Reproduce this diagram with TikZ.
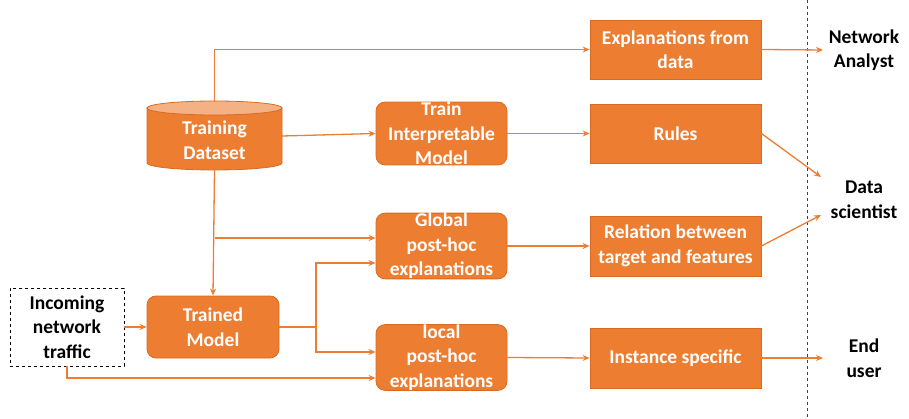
\documentclass[tikz,border=0pt]{standalone}
\usepackage{fontspec}
\setmainfont{Carlito}
\usetikzlibrary{arrows.meta}
\definecolor{org}{HTML}{ED7D31}
\definecolor{orgd}{HTML}{D86A22}
\definecolor{orgl}{HTML}{F4B183}
\begin{document}
\begin{tikzpicture}[x=1pt,y=-1pt,
  txt/.style={font=\fontsize{19.5}{24.5}\selectfont\bfseries, align=center},
  obox/.style={txt, text=white, fill=org, draw=orgd, line width=0.8pt, inner sep=0pt},
  rbox/.style={obox, rounded corners=9pt},
  who/.style={txt, text=black},
  conn/.style={draw=org, line width=1.3pt, -{Stealth[length=7pt,width=6pt]}},
  plain/.style={draw=org, line width=1.3pt}]
\useasboundingbox (0,0) rectangle (909,419);
% cylinder
\fill[org] (147,108) -- (147,163) arc[start angle=180,end angle=0,x radius=67.5,y radius=7] -- (282,108) -- cycle;
\draw[orgd,line width=0.8pt] (147,108) -- (147,163) arc[start angle=180,end angle=0,x radius=67.5,y radius=7] -- (282,108);
\draw[orgd,fill=orgl,line width=0.8pt] (214.5,108) ellipse[x radius=67.5,y radius=7];
\node[minimum width=135pt,minimum height=68pt,inner sep=0pt] (td) at (214.5,136) {};
\node[txt,text=white] (tdl) at (214.5,140) {Training\\Dataset};
% boxes
\node[rbox,minimum width=132pt,minimum height=62pt] (tm) at (213,327) {Trained\\Model};
\node[txt,draw=black,dashed,line width=0.8pt,minimum width=114pt,minimum height=78pt,inner sep=0pt] (inc) at (67,327) {Incoming\\network\\traffic};
\node[rbox,minimum width=131pt,minimum height=61pt] (ti) at (441.5,133.5) {Train\\Interpretable\\Model};
\node[rbox,minimum width=131pt,minimum height=62pt] (gl) at (441.5,246) {Global\\post-hoc\\explanations};
\node[rbox,minimum width=131pt,minimum height=61pt] (lo) at (441.5,357.5) {local\\post-hoc\\explanations};
\node[obox,minimum width=171pt,minimum height=59pt] (ex) at (675.5,49.5) {Explanations from\\data};
\node[obox,minimum width=171pt,minimum height=59pt] (ru) at (675.5,133.5) {Rules};
\node[obox,minimum width=171pt,minimum height=60pt] (re) at (675.5,246) {Relation between\\target and features};
\node[obox,minimum width=171pt,minimum height=60pt] (is) at (675.5,358) {Instance specific};
% users
\node[who] (na) at (864,50) {Network\\Analyst};
\node[who] (ds) at (864,200) {Data\\scientist};
\node[who] (eu) at (864,358) {End\\user};
\coordinate (vt) at (807,0);
\coordinate (vb) at (807,419);
\draw[black!75,dashed,line width=0.9pt] (vt) -- (vb);
% connectors
\draw[conn] (td.north) |- (ex.west);
\draw[conn] (td.east) -- (ti.west);
\draw[conn] (td.south) -- (tm.north);
\coordinate (br1) at (214.5,238);
\draw[conn] (br1) -- (gl.west |- br1);
\draw[conn] (inc.east) -- (tm.west);
\coordinate (jn) at (316,327);
\draw[plain] (tm.east) -- (jn);
\draw[conn] (jn) |- ([yshift=-17pt]gl.west);
\draw[conn] (jn) |- ([yshift=5.5pt]lo.west);
\draw[conn] (inc.south) |- ([yshift=-20.5pt]lo.west);
\draw[conn] (ti.east) -- (ru.west);
\draw[conn] (gl.east) -- (re.west);
\draw[conn] (lo.east) -- (is.west);
\coordinate (naa) at (823,50);
\coordinate (dsa) at (821,177);
\coordinate (dsb) at (821,215);
\coordinate (eua) at (823,358);
\draw[conn] (ex.east) -- (naa);
\draw[conn] (ru.east) -- (dsa);
\draw[conn] (re.east) -- (dsb);
\draw[conn] (is.east) -- (eua);
\end{tikzpicture}
\end{document}
